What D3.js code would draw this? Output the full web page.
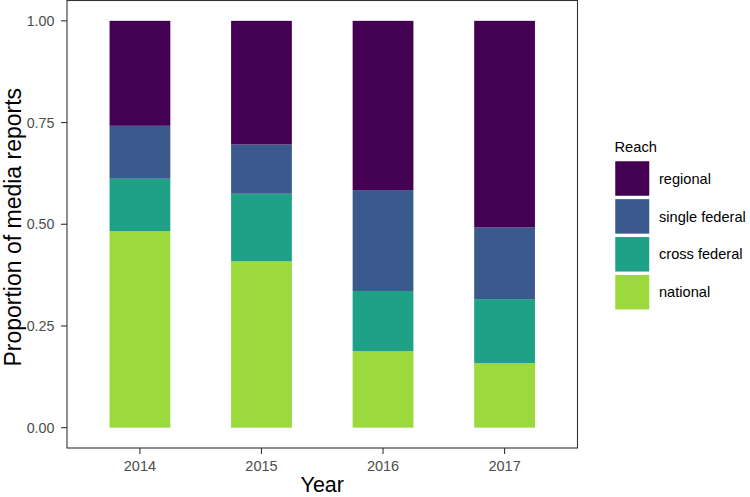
<!DOCTYPE html>
<html><head><meta charset="utf-8">
<script src="https://cdn.jsdelivr.net/npm/d3@7"></script>
<style>body{margin:0;background:#fff;} svg{display:block;font-family:"Liberation Sans",Arial,sans-serif;}</style>
</head><body>
<svg id="c" width="750" height="497"></svg>
<script>
const years = ["2014","2015","2016","2017"];
const reachLevels = ["national","cross federal","single federal","regional"];
const legendOrder = ["regional","single federal","cross federal","national"];
const national      = [0.483, 0.409, 0.188, 0.159];
const crossFederal  = [0.129, 0.166, 0.148, 0.157];
const singleFederal = [0.130, 0.121, 0.248, 0.176];
const regional      = [0.258, 0.304, 0.416, 0.508];
const yTicks = [0, 0.25, 0.5, 0.75, 1.0];
const colors = {"regional":"#440154","single federal":"#3A598C","cross federal":"#1FA187","national":"#9BD93C"};

const rows = years.map((y,i)=>({year:y,"national":national[i],"cross federal":crossFederal[i],"single federal":singleFederal[i],"regional":regional[i]}));
const stack = d3.stack().keys(reachLevels)(rows);

const svg = d3.select("#c");
const L=67, R=577.5, T=0.5, B=448;
// ggplot-like discrete scale: 0.6 units expansion each side
const x = d3.scalePoint().domain(years).range([L,R]).padding(0.6);
const unit = x.step();
const y = d3.scaleLinear().domain([-0.05,1.05]).range([B,T]);

const g = svg.append("g");
stack.forEach(layer=>{
  g.selectAll(null).data(layer).enter().append("rect")
    .attr("x", d=>x(d.data.year)-unit*0.25)
    .attr("width", unit*0.5)
    .attr("y", d=>y(d[1]))
    .attr("height", d=>y(d[0])-y(d[1]))
    .attr("fill", colors[layer.key]);
});

// panel border
svg.append("rect").attr("x",L).attr("y",T).attr("width",R-L).attr("height",B-T)
  .attr("fill","none").attr("stroke","#333").attr("stroke-width",1.1);

// y axis
const ya = svg.append("g");
yTicks.forEach(t=>{
  ya.append("line").attr("x1",L-6).attr("x2",L).attr("y1",y(t)).attr("y2",y(t)).attr("stroke","#333").attr("stroke-width",1.1);
  ya.append("text").attr("x",L-12.5).attr("y",y(t)).attr("dy","0.36em").attr("text-anchor","end")
    .attr("font-size",14.3).attr("fill","#4D4D4D").text(d3.format(".2f")(t));
});
// x axis
years.forEach(yr=>{
  svg.append("line").attr("x1",x(yr)).attr("x2",x(yr)).attr("y1",B).attr("y2",B+6).attr("stroke","#333").attr("stroke-width",1.1);
  svg.append("text").attr("x",x(yr)).attr("y",470.5).attr("text-anchor","middle")
    .attr("font-size",14.5).attr("fill","#4D4D4D").text(yr);
});
// titles
svg.append("text").attr("x",(L+R)/2).attr("y",492).attr("text-anchor","middle").attr("font-size",21.5).attr("fill","#000").text("Year");
svg.append("text").attr("transform",`translate(21,${y(0.5)+3}) rotate(-90)`).attr("text-anchor","middle").attr("font-size",23).attr("fill","#000").text("Proportion of media reports");

// legend
const lg = svg.append("g");
lg.append("text").attr("x",614.5).attr("y",152).attr("font-size",14.7).attr("fill","#000").text("Reach");
legendOrder.forEach((k,i)=>{
  const ky = 160.5 + i*37.9;
  lg.append("rect").attr("x",614.5).attr("y",ky).attr("width",35.5).attr("height",36)
    .attr("fill",colors[k]).attr("stroke","#fff").attr("stroke-width",1.5);
  lg.append("text").attr("x",659).attr("y",ky+18).attr("dy","0.35em").attr("font-size",14.6).attr("fill","#000").text(k);
});
</script>
</body></html>
